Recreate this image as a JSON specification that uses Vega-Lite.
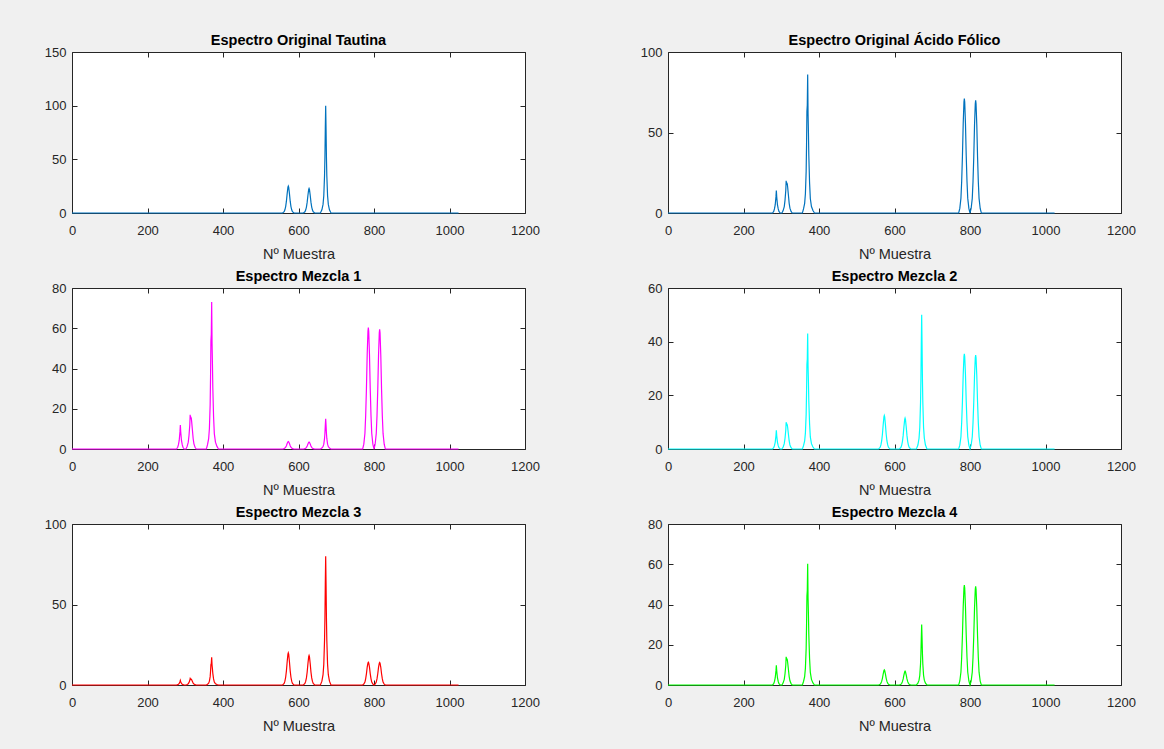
{
"$schema": "https://vega.github.io/schema/vega-lite/v6.json",
"background": "#f0f0f0",
"padding": {"left": 43, "top": 32, "right": 30, "bottom": 18},
"datasets": {"spec": [
{"x":0,"T":0,"F":0,"M1":0,"M2":0,"M3":0,"M4":0},
{"x":277,"T":0,"F":0,"M1":0,"M2":0,"M3":0,"M4":0},
{"x":280,"T":0,"F":1,"M1":0.85,"M2":0.5,"M3":0.2,"M4":0.7},
{"x":282,"T":0,"F":2.5,"M1":2.13,"M2":1.25,"M3":0.5,"M4":1.75},
{"x":284,"T":0,"F":5,"M1":4.25,"M2":2.5,"M3":1,"M4":3.5},
{"x":286,"T":0,"F":10,"M1":8.5,"M2":5,"M3":2,"M4":7},
{"x":287,"T":0,"F":14,"M1":11.9,"M2":7,"M3":2.8,"M4":9.8},
{"x":288,"T":0,"F":10,"M1":8.5,"M2":5,"M3":2,"M4":7},
{"x":290,"T":0,"F":5,"M1":4.25,"M2":2.5,"M3":1,"M4":3.5},
{"x":292,"T":0,"F":2.5,"M1":2.13,"M2":1.25,"M3":0.5,"M4":1.75},
{"x":294,"T":0,"F":1,"M1":0.85,"M2":0.5,"M3":0.2,"M4":0.7},
{"x":297,"T":0,"F":0,"M1":0,"M2":0,"M3":0,"M4":0},
{"x":302,"T":0,"F":0,"M1":0,"M2":0,"M3":0,"M4":0},
{"x":305,"T":0,"F":1.5,"M1":1.28,"M2":0.75,"M3":0.3,"M4":1.05},
{"x":308,"T":0,"F":4,"M1":3.4,"M2":2,"M3":0.8,"M4":2.8},
{"x":310,"T":0,"F":8,"M1":6.8,"M2":4,"M3":1.6,"M4":5.6},
{"x":312,"T":0,"F":14,"M1":11.9,"M2":7,"M3":2.8,"M4":9.8},
{"x":313,"T":0,"F":20,"M1":17,"M2":10,"M3":4,"M4":14},
{"x":314,"T":0,"F":17.5,"M1":14.88,"M2":8.75,"M3":3.5,"M4":12.25},
{"x":315,"T":0,"F":18.5,"M1":15.73,"M2":9.25,"M3":3.7,"M4":12.95},
{"x":316,"T":0,"F":18,"M1":15.3,"M2":9,"M3":3.6,"M4":12.6},
{"x":317,"T":0,"F":16,"M1":13.6,"M2":8,"M3":3.2,"M4":11.2},
{"x":319,"T":0,"F":11,"M1":9.35,"M2":5.5,"M3":2.2,"M4":7.7},
{"x":321,"T":0,"F":6,"M1":5.1,"M2":3,"M3":1.2,"M4":4.2},
{"x":323,"T":0,"F":3,"M1":2.55,"M2":1.5,"M3":0.6,"M4":2.1},
{"x":326,"T":0,"F":1,"M1":0.85,"M2":0.5,"M3":0.2,"M4":0.7},
{"x":329,"T":0,"F":0,"M1":0,"M2":0,"M3":0,"M4":0},
{"x":356,"T":0,"F":0,"M1":0,"M2":0,"M3":0,"M4":0},
{"x":359,"T":0,"F":2.5,"M1":2.13,"M2":1.25,"M3":0.5,"M4":1.75},
{"x":362,"T":0,"F":6,"M1":5.1,"M2":3,"M3":1.2,"M4":4.2},
{"x":364,"T":0,"F":12,"M1":10.2,"M2":6,"M3":2.4,"M4":8.4},
{"x":366,"T":0,"F":26,"M1":22.1,"M2":13,"M3":5.2,"M4":18.2},
{"x":367,"T":0,"F":42,"M1":35.7,"M2":21,"M3":8.4,"M4":29.4},
{"x":368,"T":0,"F":63,"M1":53.55,"M2":31.5,"M3":12.6,"M4":44.1},
{"x":369,"T":0,"F":67,"M1":56.95,"M2":33.5,"M3":13.4,"M4":46.9},
{"x":370,"T":0,"F":86,"M1":73.1,"M2":43,"M3":17.2,"M4":60.2},
{"x":371,"T":0,"F":62,"M1":52.7,"M2":31,"M3":12.4,"M4":43.4},
{"x":372,"T":0,"F":50,"M1":42.5,"M2":25,"M3":10,"M4":35},
{"x":373,"T":0,"F":36,"M1":30.6,"M2":18,"M3":7.2,"M4":25.2},
{"x":375,"T":0,"F":19,"M1":16.15,"M2":9.5,"M3":3.8,"M4":13.3},
{"x":377,"T":0,"F":9,"M1":7.65,"M2":4.5,"M3":1.8,"M4":6.3},
{"x":380,"T":0,"F":4,"M1":3.4,"M2":2,"M3":0.8,"M4":2.8},
{"x":384,"T":0,"F":1.5,"M1":1.28,"M2":0.75,"M3":0.3,"M4":1.05},
{"x":388,"T":0,"F":0,"M1":0,"M2":0,"M3":0,"M4":0},
{"x":558,"T":0,"F":0,"M1":0,"M2":0,"M3":0,"M4":0},
{"x":562,"T":1.25,"F":0,"M1":0.19,"M2":0.63,"M3":1,"M4":0.38},
{"x":564,"T":3,"F":0,"M1":0.45,"M2":1.5,"M3":2.4,"M4":0.9},
{"x":566,"T":6,"F":0,"M1":0.9,"M2":3,"M3":4.8,"M4":1.8},
{"x":568,"T":11,"F":0,"M1":1.65,"M2":5.5,"M3":8.8,"M4":3.3},
{"x":570,"T":18,"F":0,"M1":2.7,"M2":9,"M3":14.4,"M4":5.4},
{"x":572,"T":24,"F":0,"M1":3.6,"M2":12,"M3":19.2,"M4":7.2},
{"x":573,"T":25,"F":0,"M1":3.75,"M2":12.5,"M3":20,"M4":7.5},
{"x":574,"T":24,"F":0,"M1":3.6,"M2":12,"M3":19.2,"M4":7.2},
{"x":576,"T":18,"F":0,"M1":2.7,"M2":9,"M3":14.4,"M4":5.4},
{"x":578,"T":11,"F":0,"M1":1.65,"M2":5.5,"M3":8.8,"M4":3.3},
{"x":580,"T":6,"F":0,"M1":0.9,"M2":3,"M3":4.8,"M4":1.8},
{"x":582,"T":3,"F":0,"M1":0.45,"M2":1.5,"M3":2.4,"M4":0.9},
{"x":584,"T":1.25,"F":0,"M1":0.19,"M2":0.63,"M3":1,"M4":0.38},
{"x":588,"T":0,"F":0,"M1":0,"M2":0,"M3":0,"M4":0},
{"x":613,"T":0,"F":0,"M1":0,"M2":0,"M3":0,"M4":0},
{"x":617,"T":1.15,"F":0,"M1":0.17,"M2":0.58,"M3":0.92,"M4":0.35},
{"x":619,"T":2.76,"F":0,"M1":0.41,"M2":1.38,"M3":2.21,"M4":0.83},
{"x":621,"T":5.52,"F":0,"M1":0.83,"M2":2.76,"M3":4.42,"M4":1.66},
{"x":623,"T":10.12,"F":0,"M1":1.52,"M2":5.06,"M3":8.1,"M4":3.04},
{"x":625,"T":16.56,"F":0,"M1":2.48,"M2":8.28,"M3":13.25,"M4":4.97},
{"x":627,"T":22.08,"F":0,"M1":3.31,"M2":11.04,"M3":17.66,"M4":6.62},
{"x":628,"T":23,"F":0,"M1":3.45,"M2":11.5,"M3":18.4,"M4":6.9},
{"x":629,"T":22.08,"F":0,"M1":3.31,"M2":11.04,"M3":17.66,"M4":6.62},
{"x":631,"T":16.56,"F":0,"M1":2.48,"M2":8.28,"M3":13.25,"M4":4.97},
{"x":633,"T":10.12,"F":0,"M1":1.52,"M2":5.06,"M3":8.1,"M4":3.04},
{"x":635,"T":5.52,"F":0,"M1":0.83,"M2":2.76,"M3":4.42,"M4":1.66},
{"x":637,"T":2.76,"F":0,"M1":0.41,"M2":1.38,"M3":2.21,"M4":0.83},
{"x":639,"T":1.15,"F":0,"M1":0.17,"M2":0.58,"M3":0.92,"M4":0.35},
{"x":643,"T":0,"F":0,"M1":0,"M2":0,"M3":0,"M4":0},
{"x":658,"T":0,"F":0,"M1":0,"M2":0,"M3":0,"M4":0},
{"x":662,"T":3,"F":0,"M1":0.45,"M2":1.5,"M3":2.4,"M4":0.9},
{"x":665,"T":8,"F":0,"M1":1.2,"M2":4,"M3":6.4,"M4":2.4},
{"x":667,"T":16,"F":0,"M1":2.4,"M2":8,"M3":12.8,"M4":4.8},
{"x":669,"T":35,"F":0,"M1":5.25,"M2":17.5,"M3":28,"M4":10.5},
{"x":670,"T":52,"F":0,"M1":7.8,"M2":26,"M3":41.6,"M4":15.6},
{"x":671,"T":78,"F":0,"M1":11.7,"M2":39,"M3":62.4,"M4":23.4},
{"x":672,"T":100,"F":0,"M1":15,"M2":50,"M3":80,"M4":30},
{"x":673,"T":78,"F":0,"M1":11.7,"M2":39,"M3":62.4,"M4":23.4},
{"x":674,"T":52,"F":0,"M1":7.8,"M2":26,"M3":41.6,"M4":15.6},
{"x":675,"T":35,"F":0,"M1":5.25,"M2":17.5,"M3":28,"M4":10.5},
{"x":677,"T":16,"F":0,"M1":2.4,"M2":8,"M3":12.8,"M4":4.8},
{"x":679,"T":8,"F":0,"M1":1.2,"M2":4,"M3":6.4,"M4":2.4},
{"x":682,"T":3,"F":0,"M1":0.45,"M2":1.5,"M3":2.4,"M4":0.9},
{"x":686,"T":0,"F":0,"M1":0,"M2":0,"M3":0,"M4":0},
{"x":770,"T":0,"F":0,"M1":0,"M2":0,"M3":0,"M4":0},
{"x":773,"T":0,"F":2.84,"M1":2.41,"M2":1.42,"M3":0.57,"M4":1.99},
{"x":776,"T":0,"F":9.23,"M1":7.85,"M2":4.62,"M3":1.85,"M4":6.46},
{"x":778,"T":0,"F":19.88,"M1":16.9,"M2":9.94,"M3":3.98,"M4":13.92},
{"x":780,"T":0,"F":35.5,"M1":30.18,"M2":17.75,"M3":7.1,"M4":24.85},
{"x":782,"T":0,"F":55.38,"M1":47.07,"M2":27.69,"M3":11.08,"M4":38.77},
{"x":784,"T":0,"F":68.87,"M1":58.54,"M2":34.44,"M3":13.77,"M4":48.21},
{"x":785,"T":0,"F":71,"M1":60.35,"M2":35.5,"M3":14.2,"M4":49.7},
{"x":786,"T":0,"F":68.87,"M1":58.54,"M2":34.44,"M3":13.77,"M4":48.21},
{"x":788,"T":0,"F":55.38,"M1":47.07,"M2":27.69,"M3":11.08,"M4":38.77},
{"x":790,"T":0,"F":35.5,"M1":30.18,"M2":17.75,"M3":7.1,"M4":24.85},
{"x":792,"T":0,"F":19.88,"M1":16.9,"M2":9.94,"M3":3.98,"M4":13.92},
{"x":794,"T":0,"F":9.23,"M1":7.85,"M2":4.62,"M3":1.85,"M4":6.46},
{"x":797,"T":0,"F":2.84,"M1":2.41,"M2":1.42,"M3":0.57,"M4":1.99},
{"x":800,"T":0,"F":0,"M1":0,"M2":0,"M3":0,"M4":0},
{"x":803,"T":0,"F":2.8,"M1":2.38,"M2":1.4,"M3":0.56,"M4":1.96},
{"x":806,"T":0,"F":9.1,"M1":7.74,"M2":4.55,"M3":1.82,"M4":6.37},
{"x":808,"T":0,"F":19.6,"M1":16.66,"M2":9.8,"M3":3.92,"M4":13.72},
{"x":810,"T":0,"F":35,"M1":29.75,"M2":17.5,"M3":7,"M4":24.5},
{"x":812,"T":0,"F":54.6,"M1":46.41,"M2":27.3,"M3":10.92,"M4":38.22},
{"x":814,"T":0,"F":67.9,"M1":57.72,"M2":33.95,"M3":13.58,"M4":47.53},
{"x":815,"T":0,"F":70,"M1":59.5,"M2":35,"M3":14,"M4":49},
{"x":816,"T":0,"F":67.9,"M1":57.72,"M2":33.95,"M3":13.58,"M4":47.53},
{"x":818,"T":0,"F":54.6,"M1":46.41,"M2":27.3,"M3":10.92,"M4":38.22},
{"x":820,"T":0,"F":35,"M1":29.75,"M2":17.5,"M3":7,"M4":24.5},
{"x":822,"T":0,"F":19.6,"M1":16.66,"M2":9.8,"M3":3.92,"M4":13.72},
{"x":824,"T":0,"F":9.1,"M1":7.74,"M2":4.55,"M3":1.82,"M4":6.37},
{"x":827,"T":0,"F":2.8,"M1":2.38,"M2":1.4,"M3":0.56,"M4":1.96},
{"x":830,"T":0,"F":0,"M1":0,"M2":0,"M3":0,"M4":0},
{"x":1024,"T":0,"F":0,"M1":0,"M2":0,"M3":0,"M4":0}
]},
"columns": 2,
"spacing": {"row": 75, "column": 143},
"bounds": "flush",
"concat": [
{"title": "Espectro Original Tautina", "width": 453, "height": 161, "data": {"name": "spec"},
 "layer": [
  {"mark": {"type": "line", "color": "#0072BD", "strokeWidth": 1.2},
   "encoding": {
    "x": {"field": "x", "type": "quantitative", "scale": {"domain": [0, 1200], "nice": false}, "axis": {"orient": "bottom", "values": [0,200,400,600,800,1000,1200], "title": "Nº Muestra"}},
    "y": {"field": "T", "type": "quantitative", "scale": {"domain": [0, 150], "nice": false}, "axis": {"orient": "left", "values": [0,50,100,150], "title": null}}}},
  {"mark": {"type": "line", "opacity": 0},
   "encoding": {
    "x": {"field": "x", "type": "quantitative", "axis": {"orient": "top", "values": [0,200,400,600,800,1000,1200], "labels": false, "title": null}},
    "y": {"field": "T", "type": "quantitative", "axis": {"orient": "right", "values": [0,50,100,150], "labels": false, "title": null}}}}
 ],
 "resolve": {"axis": {"x": "independent", "y": "independent"}}},
{"title": "Espectro Original Ácido Fólico", "width": 453, "height": 161, "data": {"name": "spec"},
 "layer": [
  {"mark": {"type": "line", "color": "#0072BD", "strokeWidth": 1.2},
   "encoding": {
    "x": {"field": "x", "type": "quantitative", "scale": {"domain": [0, 1200], "nice": false}, "axis": {"orient": "bottom", "values": [0,200,400,600,800,1000,1200], "title": "Nº Muestra"}},
    "y": {"field": "F", "type": "quantitative", "scale": {"domain": [0, 100], "nice": false}, "axis": {"orient": "left", "values": [0,50,100], "title": null}}}},
  {"mark": {"type": "line", "opacity": 0},
   "encoding": {
    "x": {"field": "x", "type": "quantitative", "axis": {"orient": "top", "values": [0,200,400,600,800,1000,1200], "labels": false, "title": null}},
    "y": {"field": "F", "type": "quantitative", "axis": {"orient": "right", "values": [0,50,100], "labels": false, "title": null}}}}
 ],
 "resolve": {"axis": {"x": "independent", "y": "independent"}}},
{"title": "Espectro Mezcla 1", "width": 453, "height": 161, "data": {"name": "spec"},
 "layer": [
  {"mark": {"type": "line", "color": "#FF00FF", "strokeWidth": 1.2},
   "encoding": {
    "x": {"field": "x", "type": "quantitative", "scale": {"domain": [0, 1200], "nice": false}, "axis": {"orient": "bottom", "values": [0,200,400,600,800,1000,1200], "title": "Nº Muestra"}},
    "y": {"field": "M1", "type": "quantitative", "scale": {"domain": [0, 80], "nice": false}, "axis": {"orient": "left", "values": [0,20,40,60,80], "title": null}}}},
  {"mark": {"type": "line", "opacity": 0},
   "encoding": {
    "x": {"field": "x", "type": "quantitative", "axis": {"orient": "top", "values": [0,200,400,600,800,1000,1200], "labels": false, "title": null}},
    "y": {"field": "M1", "type": "quantitative", "axis": {"orient": "right", "values": [0,20,40,60,80], "labels": false, "title": null}}}}
 ],
 "resolve": {"axis": {"x": "independent", "y": "independent"}}},
{"title": "Espectro Mezcla 2", "width": 453, "height": 161, "data": {"name": "spec"},
 "layer": [
  {"mark": {"type": "line", "color": "#00FFFF", "strokeWidth": 1.2},
   "encoding": {
    "x": {"field": "x", "type": "quantitative", "scale": {"domain": [0, 1200], "nice": false}, "axis": {"orient": "bottom", "values": [0,200,400,600,800,1000,1200], "title": "Nº Muestra"}},
    "y": {"field": "M2", "type": "quantitative", "scale": {"domain": [0, 60], "nice": false}, "axis": {"orient": "left", "values": [0,20,40,60], "title": null}}}},
  {"mark": {"type": "line", "opacity": 0},
   "encoding": {
    "x": {"field": "x", "type": "quantitative", "axis": {"orient": "top", "values": [0,200,400,600,800,1000,1200], "labels": false, "title": null}},
    "y": {"field": "M2", "type": "quantitative", "axis": {"orient": "right", "values": [0,20,40,60], "labels": false, "title": null}}}}
 ],
 "resolve": {"axis": {"x": "independent", "y": "independent"}}},
{"title": "Espectro Mezcla 3", "width": 453, "height": 161, "data": {"name": "spec"},
 "layer": [
  {"mark": {"type": "line", "color": "#FF0000", "strokeWidth": 1.2},
   "encoding": {
    "x": {"field": "x", "type": "quantitative", "scale": {"domain": [0, 1200], "nice": false}, "axis": {"orient": "bottom", "values": [0,200,400,600,800,1000,1200], "title": "Nº Muestra"}},
    "y": {"field": "M3", "type": "quantitative", "scale": {"domain": [0, 100], "nice": false}, "axis": {"orient": "left", "values": [0,50,100], "title": null}}}},
  {"mark": {"type": "line", "opacity": 0},
   "encoding": {
    "x": {"field": "x", "type": "quantitative", "axis": {"orient": "top", "values": [0,200,400,600,800,1000,1200], "labels": false, "title": null}},
    "y": {"field": "M3", "type": "quantitative", "axis": {"orient": "right", "values": [0,50,100], "labels": false, "title": null}}}}
 ],
 "resolve": {"axis": {"x": "independent", "y": "independent"}}},
{"title": "Espectro Mezcla 4", "width": 453, "height": 161, "data": {"name": "spec"},
 "layer": [
  {"mark": {"type": "line", "color": "#00FF00", "strokeWidth": 1.2},
   "encoding": {
    "x": {"field": "x", "type": "quantitative", "scale": {"domain": [0, 1200], "nice": false}, "axis": {"orient": "bottom", "values": [0,200,400,600,800,1000,1200], "title": "Nº Muestra"}},
    "y": {"field": "M4", "type": "quantitative", "scale": {"domain": [0, 80], "nice": false}, "axis": {"orient": "left", "values": [0,20,40,60,80], "title": null}}}},
  {"mark": {"type": "line", "opacity": 0},
   "encoding": {
    "x": {"field": "x", "type": "quantitative", "axis": {"orient": "top", "values": [0,200,400,600,800,1000,1200], "labels": false, "title": null}},
    "y": {"field": "M4", "type": "quantitative", "axis": {"orient": "right", "values": [0,20,40,60,80], "labels": false, "title": null}}}}
 ],
 "resolve": {"axis": {"x": "independent", "y": "independent"}}}
],
"config": {
 "view": {"fill": "#ffffff", "stroke": "#262626", "strokeWidth": 1},
 "axis": {"grid": false, "domain": false, "tickSize": -5, "tickColor": "#262626", "tickWidth": 1, "format": "d",
  "labelFont": "Liberation Sans", "labelFontSize": 13, "labelColor": "#262626", "labelFlush": false, "labelOverlap": false,
  "titleFont": "Liberation Sans", "titleFontSize": 14.5, "titleFontWeight": "normal", "titleColor": "#262626"},
 "axisBottom": {"labelPadding": 16, "titlePadding": 10},
 "axisLeft": {"labelPadding": 11},
 "title": {"font": "Liberation Sans", "fontSize": 14.5, "fontWeight": "bold", "color": "#000000", "offset": -2, "frame": "group", "anchor": "middle"}
}
}
